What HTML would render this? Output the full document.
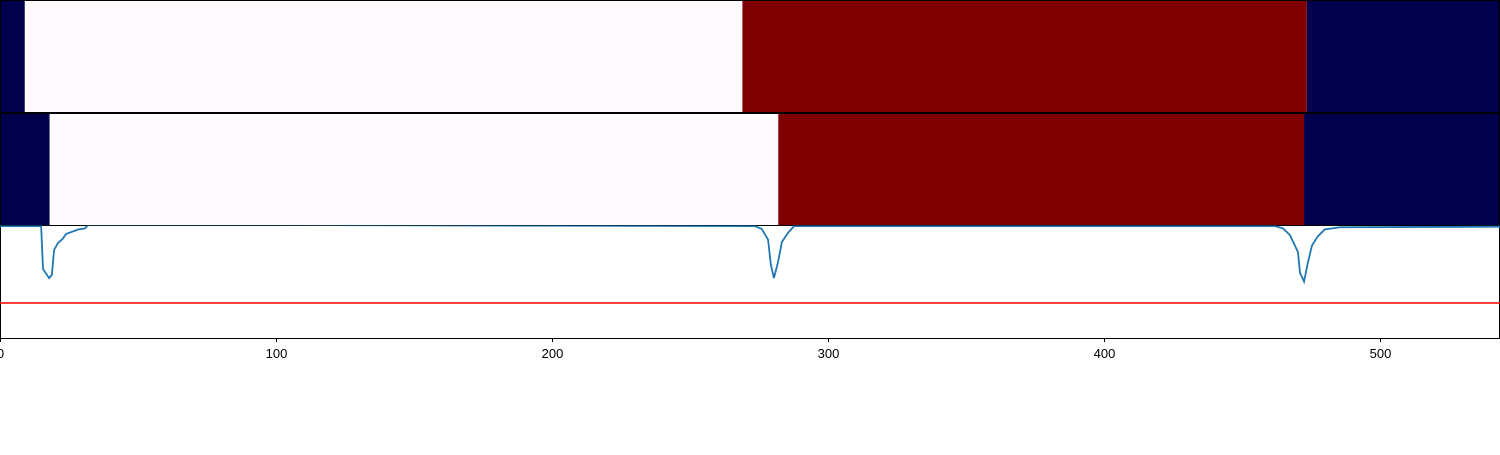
<!DOCTYPE html>
<html><head><meta charset="utf-8"><style>
body{margin:0;background:#fff;width:1500px;height:450px;overflow:hidden;font-family:"Liberation Sans","DejaVu Sans",sans-serif}
</style></head><body>
<svg id="chart" width="1500" height="450" xmlns="http://www.w3.org/2000/svg"></svg>
<script>
const xTicks=[0,100,200,300,400,500];
const row1Starts=[0,9,269,473.5];
const row1Ends=[9,269,473.5,543.5];
const row1Colors=["#00004c","#fffafd","#7f0000","#00004c"];
const row2Starts=[0,18,282,472.5];
const row2Ends=[18,282,472.5,543.5];
const row2Colors=["#00004c","#fffafd","#7f0000","#00004c"];
const lineX=[0,14.9,15.6,17.8,18.8,19.6,21,22.8,23.9,28.3,30.8,31.9,100,273.5,276,278.3,279.3,280.4,281.9,283.3,285.5,287.7,400,462,464.9,467.4,470.3,471,472.5,473.9,475.4,477.5,480,485.5,543.5];
const lineY=[0.99,0.99,0.61,0.53,0.56,0.78,0.84,0.88,0.92,0.96,0.97,1.0,1.0,0.99,0.965,0.87,0.65,0.53,0.67,0.85,0.93,0.99,0.99,0.99,0.97,0.91,0.76,0.58,0.50,0.67,0.82,0.90,0.96,0.98,0.985];
const threshold=[0.31];
const NS="http://www.w3.org/2000/svg";
const svg=document.getElementById('chart');
const xMin=0,xMax=543.5,L=0,R=1500;
function xs(v){return L+(v-xMin)/(xMax-xMin)*(R-L);}
const yTop=225,yBot=338;
function ys(v){return yBot-v*(yBot-yTop);}
function mk(t,a){const e=document.createElementNS(NS,t);for(const k in a)e.setAttribute(k,a[k]);svg.appendChild(e);return e;}
function drawRow(starts,ends,colors,y0,y1,nm){
  for(let i=0;i<starts.length;i++){
    const r=mk('rect',{x:xs(starts[i]),y:y0,width:xs(ends[i])-xs(starts[i]),height:y1-y0,fill:colors[i]});
    
    
  }
  const b=mk('rect',{x:0.5,y:y0+0.5,width:1499,height:y1-y0,fill:'none',stroke:'#000','stroke-width':1});
  
  
}
drawRow(row1Starts,row1Ends,row1Colors,0,112,'heatmap-row-1');
drawRow(row2Starts,row2Ends,row2Colors,113,225,'heatmap-row-2');
// bottom axes frame
const f=mk('path',{d:'M0.5 225 V338.5 H1499.5 V225',fill:'none',stroke:'#000','stroke-width':1});


const th=mk('line',{x1:xs(0),x2:xs(xMax),y1:ys(threshold[0]),y2:ys(threshold[0]),stroke:'#ff0000','stroke-width':1.5});


let d='';
for(let i=0;i<lineX.length;i++){d+=(i?'L':'M')+xs(lineX[i]).toFixed(2)+' '+ys(lineY[i]).toFixed(2);}
const cp=mk('clipPath',{id:'cp'});
const cr=document.createElementNS(NS,'rect');cr.setAttribute('x',0);cr.setAttribute('y',225.5);cr.setAttribute('width',1500);cr.setAttribute('height',113);cp.appendChild(cr);
const ln=mk('path',{d:d,fill:'none',stroke:'#1f77b4','stroke-width':1.8,'clip-path':'url(#cp)'});


xTicks.forEach(t=>{
  const x=Math.round(xs(t))+0.5;
  const tk=mk('line',{x1:x,x2:x,y1:338,y2:342,stroke:'#000','stroke-width':1});
  
  
  const tx=mk('text',{x:x,y:358,'text-anchor':'middle','font-size':13,fill:'#000'});
  tx.textContent=t;
  
  
});
</script>
</body></html>
